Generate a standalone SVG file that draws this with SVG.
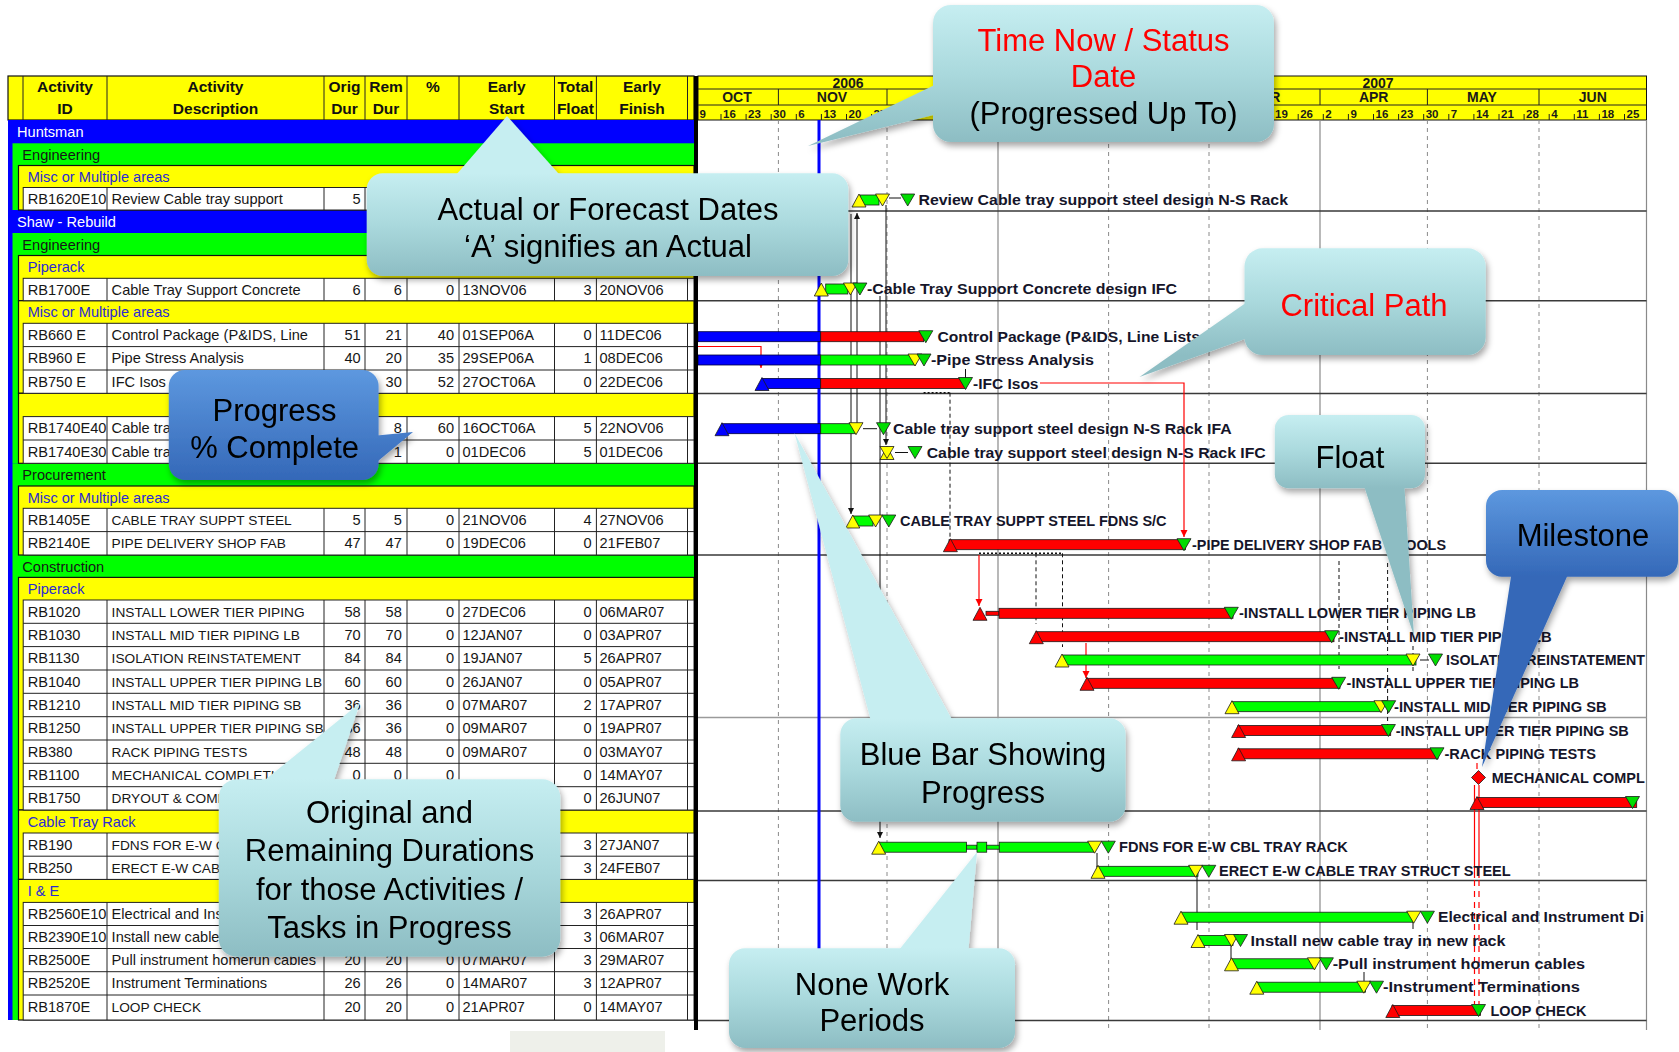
<svg xmlns="http://www.w3.org/2000/svg" width="1679" height="1052" viewBox="0 0 1679 1052">
<defs>
<style>
.tt{font-family:"Liberation Sans",Arial,sans-serif;font-size:14.6px;fill:#161616}
.tu{font-size:13.7px}
.e{text-anchor:end}
.gw{fill:#ffffff}
.gb{fill:#2b2bd4}
.hd{font-family:"Liberation Sans",Arial,sans-serif;font-size:15.5px;font-weight:bold;fill:#111;text-anchor:middle}
.lb{font-family:"Liberation Sans",Arial,sans-serif;font-size:14px;font-weight:bold;fill:#15152a}
.dy{font-family:"Liberation Sans",Arial,sans-serif;font-size:11.5px;font-weight:bold;fill:#1a1a1a}
.mo{font-family:"Liberation Sans",Arial,sans-serif;font-size:14px;font-weight:bold;fill:#1a1a1a;text-anchor:middle}
.co{font-family:"Liberation Sans",Arial,sans-serif;font-size:31px;fill:#000;text-anchor:middle}
.cr{fill:#ff0000}
.bR{fill:#ff0000;stroke:#1a1a1a;stroke-width:0.8}
.bG{fill:#00ff00;stroke:#1a1a1a;stroke-width:0.8}
.bB{fill:#0000ff;stroke:#00003a;stroke-width:0.8}
.tY{fill:#ffff00;stroke:#1a1a1a;stroke-width:0.8}
.tR{fill:#ff0000;stroke:#1a1a1a;stroke-width:0.8}
.tG{fill:#00dd00;stroke:#1a1a1a;stroke-width:0.8}
.tB{fill:#0000ff;stroke:#1a1a1a;stroke-width:0.8}
.grid{stroke:#8a8a8a;stroke-width:1;stroke-dasharray:4 4;fill:none}
.gs{stroke:#8a8a8a;stroke-width:1.2;fill:none}
.sep{stroke:#3a3a3a;stroke-width:1.5}
.cell{fill:#fff;stroke:#222;stroke-width:1}
.ln{stroke:#222;stroke-width:1;fill:none}
.rel{stroke:#111;stroke-width:1;fill:none}
.rd{stroke:#111;stroke-width:1;fill:none;stroke-dasharray:4 3}
.rdot{stroke:#111;stroke-width:1.5;fill:none;stroke-dasharray:2 2}
.relr{stroke:#ff0000;stroke-width:1.2;fill:none}
.relrd{stroke:#ff0000;stroke-width:1.2;fill:none;stroke-dasharray:6 5}
</style>
<linearGradient id="teal" x1="0" y1="0" x2="0" y2="1">
<stop offset="0" stop-color="#c6eef1"/>
<stop offset="0.5" stop-color="#aad9dd"/>
<stop offset="1" stop-color="#8dbdc3"/>
</linearGradient>
<linearGradient id="blu" x1="0" y1="0" x2="0" y2="1">
<stop offset="0" stop-color="#5d98df"/>
<stop offset="1" stop-color="#3468b8"/>
</linearGradient>
<linearGradient id="gT1" href="#teal" gradientUnits="userSpaceOnUse" x1="0" y1="5" x2="0" y2="142"/>
<linearGradient id="gT2" href="#teal" gradientUnits="userSpaceOnUse" x1="0" y1="173" x2="0" y2="276"/>
<linearGradient id="gT3" href="#teal" gradientUnits="userSpaceOnUse" x1="0" y1="248" x2="0" y2="355"/>
<linearGradient id="gT4" href="#teal" gradientUnits="userSpaceOnUse" x1="0" y1="415" x2="0" y2="488"/>
<linearGradient id="gB5" href="#blu" gradientUnits="userSpaceOnUse" x1="0" y1="490" x2="0" y2="577"/>
<linearGradient id="gB6" href="#blu" gradientUnits="userSpaceOnUse" x1="0" y1="370" x2="0" y2="480"/>
<linearGradient id="gT7" href="#teal" gradientUnits="userSpaceOnUse" x1="0" y1="718" x2="0" y2="822"/>
<linearGradient id="gT8" href="#teal" gradientUnits="userSpaceOnUse" x1="0" y1="948" x2="0" y2="1048"/>
<linearGradient id="gT9" href="#teal" gradientUnits="userSpaceOnUse" x1="0" y1="779" x2="0" y2="957"/>
<filter id="sh" x="-15%" y="-15%" width="140%" height="140%">
<feDropShadow dx="2" dy="4" stdDeviation="3" flood-color="#000" flood-opacity="0.35"/>
</filter>
<clipPath id="chartClip"><rect x="698" y="76" width="948.5" height="960"/></clipPath>
<marker id="ab" viewBox="0 0 6 6" refX="6" refY="3" markerWidth="6" markerHeight="6" orient="auto"><path d="M0,0L6,3L0,6Z" fill="#111"/></marker>
<marker id="ar" viewBox="0 0 6 6" refX="6" refY="3" markerWidth="6" markerHeight="6" orient="auto"><path d="M0,0L6,3L0,6Z" fill="#ff0000"/></marker>
<path id="up" d="M-7,7L7,7L0,-6Z"/>
<path id="dn" d="M-7,-6L7,-6L0,6Z"/>
</defs>

<rect width="1679" height="1052" fill="#fff"/>
<rect x="510" y="1031" width="155" height="21" fill="#eef0ea"/>

<!-- TABLE -->
<g id="table-header">
<rect x="8" y="76" width="686" height="44" fill="#ffff00" stroke="#111" stroke-width="1.2"/>
<path class="ln" d="M23,76V120M107,76V120M324,76V120M365,76V120M407,76V120M459,76V120M554.5,76V120M596.4,76V120M687.5,76V120"/>
<text class="hd" x="65" y="91.5">Activity</text><text class="hd" x="65" y="113.5">ID</text>
<text class="hd" x="215.5" y="91.5">Activity</text><text class="hd" x="215.5" y="113.5">Description</text>
<text class="hd" x="344.5" y="91.5">Orig</text><text class="hd" x="344.5" y="113.5">Dur</text>
<text class="hd" x="386" y="91.5">Rem</text><text class="hd" x="386" y="113.5">Dur</text>
<text class="hd" x="433" y="91.5">%</text>
<text class="hd" x="506.7" y="91.5">Early</text><text class="hd" x="506.7" y="113.5">Start</text>
<text class="hd" x="575.4" y="91.5">Total</text><text class="hd" x="575.4" y="113.5">Float</text>
<text class="hd" x="642" y="91.5">Early</text><text class="hd" x="642" y="113.5">Finish</text>
</g>

<g id="table-groups">
<rect x="8" y="120" width="686" height="90" fill="#0000ff"/>
<rect x="8" y="210" width="686" height="810" fill="#0000ff"/>
<rect x="12.5" y="143.3" width="681.5" height="66.7" fill="#00ff00"/>
<rect x="12.5" y="233" width="681.5" height="230.3" fill="#00ff00"/>
<rect x="12.5" y="463.3" width="681.5" height="91.7" fill="#00ff00"/>
<rect x="12.5" y="555" width="681.5" height="465" fill="#00ff00"/>
<g fill="#ffff00" stroke="#111" stroke-width="1.2">
<rect x="18.5" y="165.5" width="675.5" height="44.5"/>
<rect x="18.5" y="255.5" width="675.5" height="45.2"/>
<rect x="18.5" y="300.7" width="675.5" height="92.6"/>
<rect x="18.5" y="393.3" width="675.5" height="70"/>
<rect x="18.5" y="486" width="675.5" height="69"/>
<rect x="18.5" y="577.4" width="675.5" height="232.6"/>
<rect x="18.5" y="810" width="675.5" height="69.4"/>
<rect x="18.5" y="879.4" width="675.5" height="140.6"/>
</g>
<text class="tt gw" x="17" y="136.5">Huntsman</text>
<text class="tt" x="22.3" y="159.8">Engineering</text>
<text class="tt gb" x="27.7" y="182">Misc or Multiple areas</text>
<text class="tt gw" x="17" y="226.5">Shaw - Rebuild</text>
<text class="tt" x="22.3" y="249.5">Engineering</text>
<text class="tt gb" x="27.7" y="272">Piperack</text>
<text class="tt gb" x="27.7" y="317.2">Misc or Multiple areas</text>
<text class="tt" x="22.3" y="479.8">Procurement</text>
<text class="tt gb" x="27.7" y="502.5">Misc or Multiple areas</text>
<text class="tt" x="22.3" y="571.5">Construction</text>
<text class="tt gb" x="27.7" y="593.9">Piperack</text>
<text class="tt gb" x="27.7" y="826.5">Cable Tray Rack</text>
<text class="tt gb" x="27.7" y="895.9">I &amp; E</text>
</g>

<g id="table-cells">
<rect class="cell" x="23.2" y="187.5" width="670.8" height="22.5"/>
<rect class="cell" x="23.2" y="278.3" width="670.8" height="22.4"/>
<rect class="cell" x="23.2" y="323.3" width="670.8" height="70"/>
<rect class="cell" x="23.2" y="416.6" width="670.8" height="46.7"/>
<rect class="cell" x="23.2" y="508.3" width="670.8" height="46.7"/>
<rect class="cell" x="23.2" y="600" width="670.8" height="210"/>
<rect class="cell" x="23.2" y="833" width="670.8" height="46.4"/>
<rect class="cell" x="23.2" y="902.4" width="670.8" height="117.6"/>
<path class="ln" d="M107,187.5V210M324,187.5V210M365,187.5V210M407,187.5V210M459,187.5V210M554.5,187.5V210M596.4,187.5V210M687.5,187.5V210
M107,278.3V300.7M324,278.3V300.7M365,278.3V300.7M407,278.3V300.7M459,278.3V300.7M554.5,278.3V300.7M596.4,278.3V300.7M687.5,278.3V300.7
M107,323.3V393.3M324,323.3V393.3M365,323.3V393.3M407,323.3V393.3M459,323.3V393.3M554.5,323.3V393.3M596.4,323.3V393.3M687.5,323.3V393.3
M23.2,346.6H694M23.2,370H694
M107,416.6V463.3M324,416.6V463.3M365,416.6V463.3M407,416.6V463.3M459,416.6V463.3M554.5,416.6V463.3M596.4,416.6V463.3M687.5,416.6V463.3
M23.2,440H694
M107,508.3V555M324,508.3V555M365,508.3V555M407,508.3V555M459,508.3V555M554.5,508.3V555M596.4,508.3V555M687.5,508.3V555
M23.2,531.6H694
M107,600V810M324,600V810M365,600V810M407,600V810M459,600V810M554.5,600V810M596.4,600V810M687.5,600V810
M23.2,623.3H694M23.2,646.6H694M23.2,670H694M23.2,693.3H694M23.2,716.7H694M23.2,740H694M23.2,763.3H694M23.2,786.7H694
M107,833V879.4M324,833V879.4M365,833V879.4M407,833V879.4M459,833V879.4M554.5,833V879.4M596.4,833V879.4M687.5,833V879.4
M23.2,856.2H694
M107,902.4V1020M324,902.4V1020M365,902.4V1020M407,902.4V1020M459,902.4V1020M554.5,902.4V1020M596.4,902.4V1020M687.5,902.4V1020
M23.2,925.5H694M23.2,948.5H694M23.2,971.7H694M23.2,995H694"/>
</g>

<g id="row-RB1620E10"><text class="tt" x="27.7" y="204">RB1620E10</text><text class="tt" x="111.6" y="204">Review Cable tray support</text><text class="tt e" x="360.7" y="204">5</text></g>
<g id="row-RB1700E"><text class="tt" x="27.7" y="294.8">RB1700E</text><text class="tt" x="111.6" y="294.8">Cable Tray Support Concrete</text><text class="tt e" x="360.7" y="294.8">6</text><text class="tt e" x="401.8" y="294.8">6</text><text class="tt e" x="454" y="294.8">0</text><text class="tt" x="462.5" y="294.8">13NOV06</text><text class="tt e" x="591.5" y="294.8">3</text><text class="tt" x="599.5" y="294.8">20NOV06</text></g>
<g id="row-RB660E"><text class="tt" x="27.7" y="339.8">RB660 E</text><text class="tt" x="111.6" y="339.8">Control Package (P&amp;IDS, Line</text><text class="tt e" x="360.7" y="339.8">51</text><text class="tt e" x="401.8" y="339.8">21</text><text class="tt e" x="454" y="339.8">40</text><text class="tt" x="462.5" y="339.8">01SEP06A</text><text class="tt e" x="591.5" y="339.8">0</text><text class="tt" x="599.5" y="339.8">11DEC06</text></g>
<g id="row-RB960E"><text class="tt" x="27.7" y="363.1">RB960 E</text><text class="tt" x="111.6" y="363.1">Pipe Stress Analysis</text><text class="tt e" x="360.7" y="363.1">40</text><text class="tt e" x="401.8" y="363.1">20</text><text class="tt e" x="454" y="363.1">35</text><text class="tt" x="462.5" y="363.1">29SEP06A</text><text class="tt e" x="591.5" y="363.1">1</text><text class="tt" x="599.5" y="363.1">08DEC06</text></g>
<g id="row-RB750E"><text class="tt" x="27.7" y="386.5">RB750 E</text><text class="tt" x="111.6" y="386.5">IFC Isos</text><text class="tt e" x="401.8" y="386.5">30</text><text class="tt e" x="454" y="386.5">52</text><text class="tt" x="462.5" y="386.5">27OCT06A</text><text class="tt e" x="591.5" y="386.5">0</text><text class="tt" x="599.5" y="386.5">22DEC06</text></g>
<g id="row-RB1740E40"><text class="tt" x="27.7" y="433.1">RB1740E40</text><text class="tt" x="111.6" y="433.1">Cable tra</text><text class="tt e" x="401.8" y="433.1">8</text><text class="tt e" x="454" y="433.1">60</text><text class="tt" x="462.5" y="433.1">16OCT06A</text><text class="tt e" x="591.5" y="433.1">5</text><text class="tt" x="599.5" y="433.1">22NOV06</text></g>
<g id="row-RB1740E30"><text class="tt" x="27.7" y="456.5">RB1740E30</text><text class="tt" x="111.6" y="456.5">Cable tra</text><text class="tt e" x="401.8" y="456.5">1</text><text class="tt e" x="454" y="456.5">0</text><text class="tt" x="462.5" y="456.5">01DEC06</text><text class="tt e" x="591.5" y="456.5">5</text><text class="tt" x="599.5" y="456.5">01DEC06</text></g>
<g id="row-RB1405E"><text class="tt" x="27.7" y="524.8">RB1405E</text><text class="tt tu" x="111.6" y="524.8">CABLE TRAY SUPPT STEEL</text><text class="tt e" x="360.7" y="524.8">5</text><text class="tt e" x="401.8" y="524.8">5</text><text class="tt e" x="454" y="524.8">0</text><text class="tt" x="462.5" y="524.8">21NOV06</text><text class="tt e" x="591.5" y="524.8">4</text><text class="tt" x="599.5" y="524.8">27NOV06</text></g>
<g id="row-RB2140E"><text class="tt" x="27.7" y="548.1">RB2140E</text><text class="tt tu" x="111.6" y="548.1">PIPE DELIVERY SHOP FAB</text><text class="tt e" x="360.7" y="548.1">47</text><text class="tt e" x="401.8" y="548.1">47</text><text class="tt e" x="454" y="548.1">0</text><text class="tt" x="462.5" y="548.1">19DEC06</text><text class="tt e" x="591.5" y="548.1">0</text><text class="tt" x="599.5" y="548.1">21FEB07</text></g>
<g id="row-RB1020"><text class="tt" x="27.7" y="616.5">RB1020</text><text class="tt tu" x="111.6" y="616.5">INSTALL LOWER TIER PIPING</text><text class="tt e" x="360.7" y="616.5">58</text><text class="tt e" x="401.8" y="616.5">58</text><text class="tt e" x="454" y="616.5">0</text><text class="tt" x="462.5" y="616.5">27DEC06</text><text class="tt e" x="591.5" y="616.5">0</text><text class="tt" x="599.5" y="616.5">06MAR07</text></g>
<g id="row-RB1030"><text class="tt" x="27.7" y="639.8">RB1030</text><text class="tt tu" x="111.6" y="639.8">INSTALL MID TIER PIPING LB</text><text class="tt e" x="360.7" y="639.8">70</text><text class="tt e" x="401.8" y="639.8">70</text><text class="tt e" x="454" y="639.8">0</text><text class="tt" x="462.5" y="639.8">12JAN07</text><text class="tt e" x="591.5" y="639.8">0</text><text class="tt" x="599.5" y="639.8">03APR07</text></g>
<g id="row-RB1130"><text class="tt" x="27.7" y="663.1">RB1130</text><text class="tt tu" x="111.6" y="663.1">ISOLATION REINSTATEMENT</text><text class="tt e" x="360.7" y="663.1">84</text><text class="tt e" x="401.8" y="663.1">84</text><text class="tt e" x="454" y="663.1">0</text><text class="tt" x="462.5" y="663.1">19JAN07</text><text class="tt e" x="591.5" y="663.1">5</text><text class="tt" x="599.5" y="663.1">26APR07</text></g>
<g id="row-RB1040"><text class="tt" x="27.7" y="686.5">RB1040</text><text class="tt tu" x="111.6" y="686.5">INSTALL UPPER TIER PIPING LB</text><text class="tt e" x="360.7" y="686.5">60</text><text class="tt e" x="401.8" y="686.5">60</text><text class="tt e" x="454" y="686.5">0</text><text class="tt" x="462.5" y="686.5">26JAN07</text><text class="tt e" x="591.5" y="686.5">0</text><text class="tt" x="599.5" y="686.5">05APR07</text></g>
<g id="row-RB1210"><text class="tt" x="27.7" y="709.8">RB1210</text><text class="tt tu" x="111.6" y="709.8">INSTALL MID TIER PIPING SB</text><text class="tt e" x="360.7" y="709.8">36</text><text class="tt e" x="401.8" y="709.8">36</text><text class="tt e" x="454" y="709.8">0</text><text class="tt" x="462.5" y="709.8">07MAR07</text><text class="tt e" x="591.5" y="709.8">2</text><text class="tt" x="599.5" y="709.8">17APR07</text></g>
<g id="row-RB1250"><text class="tt" x="27.7" y="733.2">RB1250</text><text class="tt tu" x="111.6" y="733.2">INSTALL UPPER TIER PIPING SB</text><text class="tt e" x="360.7" y="733.2">36</text><text class="tt e" x="401.8" y="733.2">36</text><text class="tt e" x="454" y="733.2">0</text><text class="tt" x="462.5" y="733.2">09MAR07</text><text class="tt e" x="591.5" y="733.2">0</text><text class="tt" x="599.5" y="733.2">19APR07</text></g>
<g id="row-RB380"><text class="tt" x="27.7" y="756.5">RB380</text><text class="tt tu" x="111.6" y="756.5">RACK PIPING TESTS</text><text class="tt e" x="360.7" y="756.5">48</text><text class="tt e" x="401.8" y="756.5">48</text><text class="tt e" x="454" y="756.5">0</text><text class="tt" x="462.5" y="756.5">09MAR07</text><text class="tt e" x="591.5" y="756.5">0</text><text class="tt" x="599.5" y="756.5">03MAY07</text></g>
<g id="row-RB1100"><text class="tt" x="27.7" y="779.8">RB1100</text><text class="tt tu" x="111.6" y="779.8">MECHANICAL COMPLETION</text><text class="tt e" x="360.7" y="779.8">0</text><text class="tt e" x="401.8" y="779.8">0</text><text class="tt e" x="454" y="779.8">0</text><text class="tt e" x="591.5" y="779.8">0</text><text class="tt" x="599.5" y="779.8">14MAY07</text></g>
<g id="row-RB1750"><text class="tt" x="27.7" y="803.2">RB1750</text><text class="tt tu" x="111.6" y="803.2">DRYOUT &amp; COMM</text><text class="tt e" x="591.5" y="803.2">0</text><text class="tt" x="599.5" y="803.2">26JUN07</text></g>
<g id="row-RB190"><text class="tt" x="27.7" y="849.5">RB190</text><text class="tt tu" x="111.6" y="849.5">FDNS FOR E-W CBL</text><text class="tt e" x="591.5" y="849.5">3</text><text class="tt" x="599.5" y="849.5">27JAN07</text></g>
<g id="row-RB250"><text class="tt" x="27.7" y="872.7">RB250</text><text class="tt tu" x="111.6" y="872.7">ERECT E-W CABLE</text><text class="tt e" x="591.5" y="872.7">3</text><text class="tt" x="599.5" y="872.7">24FEB07</text></g>
<g id="row-RB2560E10"><text class="tt" x="27.7" y="918.9">RB2560E10</text><text class="tt" x="111.6" y="918.9">Electrical and Inst</text><text class="tt e" x="591.5" y="918.9">3</text><text class="tt" x="599.5" y="918.9">26APR07</text></g>
<g id="row-RB2390E10"><text class="tt" x="27.7" y="942">RB2390E10</text><text class="tt" x="111.6" y="942">Install new cable tray</text><text class="tt e" x="591.5" y="942">3</text><text class="tt" x="599.5" y="942">06MAR07</text></g>
<g id="row-RB2500E"><text class="tt" x="27.7" y="965">RB2500E</text><text class="tt" x="111.6" y="965">Pull instrument homerun cables</text><text class="tt e" x="360.7" y="965">20</text><text class="tt e" x="401.8" y="965">20</text><text class="tt e" x="454" y="965">0</text><text class="tt" x="462.5" y="965">07MAR07</text><text class="tt e" x="591.5" y="965">3</text><text class="tt" x="599.5" y="965">29MAR07</text></g>
<g id="row-RB2520E"><text class="tt" x="27.7" y="988.2">RB2520E</text><text class="tt" x="111.6" y="988.2">Instrument Terminations</text><text class="tt e" x="360.7" y="988.2">26</text><text class="tt e" x="401.8" y="988.2">26</text><text class="tt e" x="454" y="988.2">0</text><text class="tt" x="462.5" y="988.2">14MAR07</text><text class="tt e" x="591.5" y="988.2">3</text><text class="tt" x="599.5" y="988.2">12APR07</text></g>
<g id="row-RB1870E"><text class="tt" x="27.7" y="1011.5">RB1870E</text><text class="tt tu" x="111.6" y="1011.5">LOOP CHECK</text><text class="tt e" x="360.7" y="1011.5">20</text><text class="tt e" x="401.8" y="1011.5">20</text><text class="tt e" x="454" y="1011.5">0</text><text class="tt" x="462.5" y="1011.5">21APR07</text><text class="tt e" x="591.5" y="1011.5">0</text><text class="tt" x="599.5" y="1011.5" fill="#3a1060">14MAY07</text></g>

<!-- TIMELINE HEADER -->
<g id="timeline-header">
<rect x="698" y="76" width="948.5" height="44" fill="#ffff00" stroke="#111" stroke-width="1"/>
<path class="ln" d="M698,89H1646.5M698,105H1646.5M998,76V105M778.4,89V105M887,89V105M1108.6,89V105M1209,89V105M1320,89V105M1427.4,89V105M1539,89V105"/>
<text class="mo" x="848" y="87.5" font-size="13">2006</text>
<text class="mo" x="1378" y="87.5" font-size="13">2007</text>
<text class="mo" x="737" y="102">OCT</text>
<text class="mo" x="832" y="102">NOV</text>
<text class="mo" x="1264.5" y="102">MAR</text>
<text class="mo" x="1373.7" y="102">APR</text>
<text class="mo" x="1482" y="102">MAY</text>
<text class="mo" x="1592.8" y="102">JUN</text>
<path class="ln" d="M721,114V120M746.1,114V120M771.2,114V120M796.3,114V120M821.4,114V120M846.5,114V120M871.6,114V120M1273.1,114V120M1298.2,114V120M1323.3,114V120M1348.4,114V120M1373.5,114V120M1398.6,114V120M1423.7,114V120M1448.8,114V120M1473.9,114V120M1499,114V120M1524.1,114V120M1549.2,114V120M1574.3,114V120M1599.4,114V120M1624.5,114V120"/>
<text class="dy" x="699.5" y="117.5">9</text>
<text class="dy" x="723" y="117.5">16</text>
<text class="dy" x="748" y="117.5">23</text>
<text class="dy" x="773" y="117.5">30</text>
<text class="dy" x="798.3" y="117.5">6</text>
<text class="dy" x="823.4" y="117.5">13</text>
<text class="dy" x="848.5" y="117.5">20</text>
<text class="dy" x="873.6" y="117.5">27</text>
<text class="dy" x="1275" y="117.5">19</text>
<text class="dy" x="1300.2" y="117.5">26</text>
<text class="dy" x="1325.3" y="117.5">2</text>
<text class="dy" x="1350.4" y="117.5">9</text>
<text class="dy" x="1375.5" y="117.5">16</text>
<text class="dy" x="1400.6" y="117.5">23</text>
<text class="dy" x="1425.7" y="117.5">30</text>
<text class="dy" x="1450.8" y="117.5">7</text>
<text class="dy" x="1475.9" y="117.5">14</text>
<text class="dy" x="1501" y="117.5">21</text>
<text class="dy" x="1526.1" y="117.5">28</text>
<text class="dy" x="1551.2" y="117.5">4</text>
<text class="dy" x="1576.3" y="117.5">11</text>
<text class="dy" x="1601.4" y="117.5">18</text>
<text class="dy" x="1626.5" y="117.5">25</text>
</g>

<!-- CHART GRID -->
<g id="chart-grid">
<path class="grid" d="M778.4,120V1030M887,120V1030M1108.6,120V1030M1209,120V1030M1427.4,120V1030M1539,120V1030"/>
<path class="gs" d="M998,120V1030M1320,120V1030M1646.5,120V1030"/>
<path class="sep" d="M698,211H1646.5M698,300.7H1646.5M698,393.5H1646.5M698,463.3H1646.5M698,555H1646.5M698,811H1646.5M698,880.5H1646.5M698,1020.5H1646.5"/>
<path d="M698,717.5H1646.5" stroke="#9a9a9a" stroke-width="1.5"/>
<rect x="694" y="76" width="4" height="954" fill="#000"/>
<rect id="time-now" x="817.5" y="120" width="3" height="901" fill="#0000ff"/>
</g>

<!-- CONNECTORS -->
<g id="connectors">
<path class="rel" d="M851,214V514" marker-end="url(#ab)"/>
<path class="rel" d="M857,423V213" marker-end="url(#ab)"/>
<path class="rel" d="M880,296V838" marker-end="url(#ab)"/>
<path class="rel" d="M886,205V445" marker-end="url(#ab)"/>
<path class="rel" d="M889,198H901M863,428.7H877M895,452.5H908M1420,660H1429"/>
<path class="rdot" d="M923.6,392.7H950M979,553.3H1062.5"/>
<path class="rd" d="M950,392.7V537M1036,553.3V624M1062.5,553.3V647M1339,561V669M1387.6,563V727M1413,646V671"/>
<path class="rel" d="M1197,876V930M1231,942V960M1097,853V867M1364,972V981M1413,922V929M965.5,369V378"/>
<path class="relr" d="M698,346.5H761V368" marker-end="url(#ar)"/>
<path class="relr" d="M1040,383H1184V537" marker-end="url(#ar)"/>
<path class="relr" d="M979,555V606" marker-end="url(#ar)"/>
<path class="relr" d="M1086,643V678" marker-end="url(#ar)"/>
<path class="relr" d="M1474.5,785V878M1479,785V878"/>
<path class="relrd" d="M1474.5,880V1004M1479,880V1004M1477,763V771"/>
</g>

<!-- BARS -->
<g id="bars" clip-path="url(#chartClip)">
<g id="bar-RB1620E10">
<rect class="bG" x="860" y="195" width="19" height="10"/>
<use href="#up" class="tY" x="859" y="200"/><use href="#dn" class="tY" x="882.5" y="200"/><use href="#dn" class="tG" x="907.7" y="200"/>
<text class="lb" x="918.5" y="205" textLength="369.5" lengthAdjust="spacingAndGlyphs">Review Cable tray support steel design N-S Rack</text>
</g>
<g id="bar-RB1700E">
<rect class="bG" x="825.7" y="284" width="22.1" height="10"/>
<use href="#up" class="tY" x="821.3" y="289"/><use href="#dn" class="tY" x="850.4" y="289"/><use href="#dn" class="tG" x="859.9" y="289"/>
<text class="lb" x="867" y="294" textLength="310" lengthAdjust="spacingAndGlyphs">-Cable Tray Support Concrete design IFC</text>
</g>
<g id="bar-RB660E">
<rect class="bB" x="698" y="331.7" width="122.7" height="10"/><rect class="bR" x="820.7" y="331.7" width="102.9" height="10"/>
<use href="#dn" class="tG" x="925.8" y="336.7"/>
<text class="lb" x="937.5" y="341.7" textLength="262.5" lengthAdjust="spacingAndGlyphs">Control Package (P&amp;IDS, Line Lists</text>
</g>
<g id="bar-RB960E">
<rect class="bB" x="698" y="355" width="122.7" height="10"/><rect class="bG" x="820.7" y="355" width="94.7" height="10"/>
<use href="#dn" class="tY" x="915" y="360"/><use href="#dn" class="tG" x="924" y="360"/>
<text class="lb" x="931" y="365" textLength="163" lengthAdjust="spacingAndGlyphs">-Pipe Stress Analysis</text>
</g>
<g id="bar-RB750E">
<rect class="bB" x="762" y="378.5" width="58.7" height="10"/><rect class="bR" x="820.7" y="378.5" width="145.3" height="10"/>
<use href="#up" class="tB" x="762" y="383.5"/><use href="#dn" class="tG" x="965.5" y="383.5"/>
<text class="lb" x="973" y="388.5" textLength="65.5" lengthAdjust="spacingAndGlyphs">-IFC Isos</text>
</g>
<g id="bar-RB1740E40">
<rect class="bB" x="722" y="423.7" width="98.7" height="10"/><rect class="bG" x="820.7" y="423.7" width="34.7" height="10"/>
<use href="#up" class="tB" x="722" y="428.7"/><use href="#dn" class="tY" x="856" y="428.7"/><use href="#dn" class="tG" x="883.5" y="428.7"/>
<text class="lb" x="893" y="433.7" textLength="338.7" lengthAdjust="spacingAndGlyphs">Cable tray support steel design N-S Rack IFA</text>
</g>
<g id="bar-RB1740E30">
<use href="#up" class="tY" x="887" y="452.5"/><use href="#dn" class="tY" x="887" y="452.5"/><use href="#dn" class="tG" x="915" y="452.5"/>
<text class="lb" x="926.7" y="457.5" textLength="339.1" lengthAdjust="spacingAndGlyphs">Cable tray support steel design N-S Rack IFC</text>
</g>
<g id="bar-RB1405E">
<rect class="bG" x="853" y="516" width="20" height="10"/>
<use href="#up" class="tY" x="852.8" y="521"/><use href="#dn" class="tY" x="875.6" y="521"/><use href="#dn" class="tG" x="888.8" y="521"/>
<text class="lb" x="900" y="526" textLength="266.6" lengthAdjust="spacingAndGlyphs">CABLE TRAY SUPPT STEEL FDNS S/C</text>
</g>
<g id="bar-RB2140E">
<rect class="bR" x="949" y="539.7" width="236.6" height="10"/>
<use href="#up" class="tR" x="950.4" y="544.7"/><use href="#dn" class="tG" x="1184" y="544.7"/>
<text class="lb" x="1192" y="549.7" textLength="254" lengthAdjust="spacingAndGlyphs">-PIPE DELIVERY SHOP FAB SPOOLS</text>
</g>
<g id="bar-RB1020">
<rect class="bR" x="986" y="611.3" width="13" height="4"/><rect class="bR" x="999" y="608.3" width="234" height="10"/>
<use href="#up" class="tR" x="980" y="613.3"/><use href="#dn" class="tG" x="1231.3" y="613.3"/>
<text class="lb" x="1239" y="618.3" textLength="237" lengthAdjust="spacingAndGlyphs">-INSTALL LOWER TIER PIPING LB</text>
</g>
<g id="bar-RB1030">
<rect class="bR" x="1036" y="631.7" width="298" height="10"/>
<use href="#up" class="tR" x="1036.3" y="636.7"/><use href="#dn" class="tG" x="1331.7" y="636.7"/>
<text class="lb" x="1339" y="641.7" textLength="212.7" lengthAdjust="spacingAndGlyphs">-INSTALL MID TIER PIPING LB</text>
</g>
<g id="bar-RB1130">
<rect class="bG" x="1062.5" y="655" width="353.5" height="10"/>
<use href="#up" class="tY" x="1062" y="660"/><use href="#dn" class="tY" x="1413" y="660"/><use href="#dn" class="tG" x="1435.5" y="660"/>
<text class="lb" x="1446" y="665" textLength="199" lengthAdjust="spacingAndGlyphs">ISOLATION REINSTATEMENT</text>
</g>
<g id="bar-RB1040">
<rect class="bR" x="1086.5" y="678.3" width="253.5" height="10"/>
<use href="#up" class="tR" x="1087" y="683.3"/><use href="#dn" class="tG" x="1338.7" y="683.3"/>
<text class="lb" x="1346.6" y="688.3" textLength="232.4" lengthAdjust="spacingAndGlyphs">-INSTALL UPPER TIER PIPING LB</text>
</g>
<g id="bar-RB1210">
<rect class="bG" x="1231.7" y="701.7" width="149.3" height="10"/>
<use href="#up" class="tY" x="1232" y="706.7"/><use href="#dn" class="tY" x="1381" y="706.7"/><use href="#dn" class="tG" x="1388.7" y="706.7"/>
<text class="lb" x="1394" y="711.7" textLength="212.7" lengthAdjust="spacingAndGlyphs">-INSTALL MID TIER PIPING SB</text>
</g>
<g id="bar-RB1250">
<rect class="bR" x="1238" y="725.5" width="152.7" height="10"/>
<use href="#up" class="tR" x="1238.6" y="730.5"/><use href="#dn" class="tG" x="1388.4" y="730.5"/>
<text class="lb" x="1395.8" y="735.5" textLength="233" lengthAdjust="spacingAndGlyphs">-INSTALL UPPER TIER PIPING SB</text>
</g>
<g id="bar-RB380">
<rect class="bR" x="1238" y="748.8" width="200" height="10"/>
<use href="#up" class="tR" x="1238.6" y="753.8"/><use href="#dn" class="tG" x="1437" y="753.8"/>
<text class="lb" x="1444.4" y="758.8" textLength="151.6" lengthAdjust="spacingAndGlyphs">-RACK PIPING TESTS</text>
</g>
<g id="bar-RB1100">
<path class="tR" d="M1478.5,770.5L1485.5,777.5L1478.5,784.5L1471.5,777.5Z"/>
<text class="lb" x="1491.8" y="782.5" textLength="153" lengthAdjust="spacingAndGlyphs">MECHANICAL COMPL</text>
</g>
<g id="bar-RB1750">
<rect class="bR" x="1477" y="797.5" width="159.7" height="10"/>
<use href="#up" class="tR" x="1477" y="802.5"/><use href="#dn" class="tG" x="1632.5" y="802.5"/>
</g>
<g id="bar-RB190">
<rect class="bG" x="879.4" y="842.2" width="87.1" height="10"/>
<rect class="bG" x="966.5" y="845.2" width="10.5" height="4"/>
<rect class="bG" x="977" y="842.2" width="9.7" height="10"/>
<rect class="bG" x="986.7" y="845.2" width="12.6" height="4"/>
<rect class="bG" x="999.3" y="842.2" width="94.7" height="10"/>
<use href="#up" class="tY" x="878.7" y="847.2"/><use href="#dn" class="tY" x="1094.6" y="847.2"/><use href="#dn" class="tG" x="1108.3" y="847.2"/>
<text class="lb" x="1119" y="852.2" textLength="228.8" lengthAdjust="spacingAndGlyphs">FDNS FOR E-W CBL TRAY RACK</text>
</g>
<g id="bar-RB250">
<rect class="bG" x="1097" y="866.3" width="101" height="10"/>
<use href="#up" class="tY" x="1098" y="871.3"/><use href="#dn" class="tY" x="1195.6" y="871.3"/><use href="#dn" class="tG" x="1208.8" y="871.3"/>
<text class="lb" x="1219" y="876.3" textLength="291.7" lengthAdjust="spacingAndGlyphs">ERECT E-W CABLE TRAY STRUCT STEEL</text>
</g>
<g id="bar-RB2560E10">
<rect class="bG" x="1181" y="912.2" width="232" height="10"/>
<use href="#up" class="tY" x="1181" y="917.2"/><use href="#dn" class="tY" x="1413.7" y="917.2"/><use href="#dn" class="tG" x="1427.4" y="917.2"/>
<text class="lb" x="1438" y="922.2" textLength="206" lengthAdjust="spacingAndGlyphs">Electrical and Instrument Di</text>
</g>
<g id="bar-RB2390E10">
<rect class="bG" x="1198" y="935.5" width="35" height="10"/>
<use href="#up" class="tY" x="1198" y="940.5"/><use href="#dn" class="tY" x="1231.5" y="940.5"/><use href="#dn" class="tG" x="1240.5" y="940.5"/>
<text class="lb" x="1250.6" y="945.5" textLength="255" lengthAdjust="spacingAndGlyphs">Install new cable tray in new rack</text>
</g>
<g id="bar-RB2500E">
<rect class="bG" x="1231.7" y="958.8" width="83.3" height="10"/>
<use href="#up" class="tY" x="1231.5" y="963.8"/><use href="#dn" class="tY" x="1314.4" y="963.8"/><use href="#dn" class="tG" x="1326.4" y="963.8"/>
<text class="lb" x="1332.7" y="968.8" textLength="252.3" lengthAdjust="spacingAndGlyphs">-Pull instrument homerun cables</text>
</g>
<g id="bar-RB2520E">
<rect class="bG" x="1257" y="982.2" width="108.5" height="10"/>
<use href="#up" class="tY" x="1256.8" y="987.2"/><use href="#dn" class="tY" x="1363.8" y="987.2"/><use href="#dn" class="tG" x="1376.5" y="987.2"/>
<text class="lb" x="1383" y="992.2" textLength="197" lengthAdjust="spacingAndGlyphs">-Instrument Terminations</text>
</g>
<g id="bar-RB1870E">
<rect class="bR" x="1392" y="1005.5" width="88.4" height="10"/>
<use href="#up" class="tR" x="1392.8" y="1010.5"/><use href="#dn" class="tG" x="1478.5" y="1010.5"/>
<text class="lb" x="1490.5" y="1015.5" textLength="96" lengthAdjust="spacingAndGlyphs">LOOP CHECK</text>
</g>
</g>

<!-- CALLOUTS -->
<g id="callout-time-now" filter="url(#sh)">
<polygon points="945,80 808,146 962,108" fill="url(#gT1)"/>
<rect x="933" y="5" width="341" height="137" rx="18" fill="url(#gT1)"/>
<text class="co cr" x="1103.5" y="50.7">Time Now / Status</text>
<text class="co cr" x="1103.5" y="87.4">Date</text>
<text class="co" x="1103.5" y="124">(Progressed Up To)</text>
</g>
<g id="callout-actual-dates" filter="url(#sh)">
<polygon points="450,182 507,116 566,182" fill="url(#gT2)"/>
<rect x="366.7" y="173.3" width="481.6" height="102.7" rx="16" fill="url(#gT2)"/>
<text class="co" x="608" y="220">Actual or Forecast Dates</text>
<text class="co" x="608" y="257.4">‘A’ signifies an Actual</text>
</g>
<g id="callout-critical-path" filter="url(#sh)">
<polygon points="1250,300 1139.5,377 1256,335" fill="url(#gT3)"/>
<rect x="1244.5" y="248.3" width="241.2" height="106.7" rx="18" fill="url(#gT3)"/>
<text class="co cr" x="1364" y="315.5">Critical Path</text>
</g>
<g id="callout-float" filter="url(#sh)">
<polygon points="1362,480 1414,636 1404,480" fill="url(#gT4)"/>
<rect x="1274.8" y="415" width="150.2" height="73.3" rx="14" fill="url(#gT4)"/>
<text class="co" x="1350" y="467.8">Float</text>
</g>
<g id="callout-milestone" filter="url(#sh)">
<polygon points="1512,570 1482,767 1570,570" fill="url(#gB5)"/>
<rect x="1486" y="490" width="192" height="86.7" rx="16" fill="url(#gB5)"/>
<text class="co" x="1583" y="546">Milestone</text>
</g>
<g id="callout-progress" filter="url(#sh)">
<polygon points="372,436 413,432 372,466" fill="url(#gB6)"/>
<rect x="168.75" y="370" width="209.85" height="110" rx="16" fill="url(#gB6)"/>
<text class="co" x="274.6" y="421">Progress</text>
<text class="co" x="274.6" y="457.8">% Complete</text>
</g>
<g id="callout-blue-bar" filter="url(#sh)">
<polygon points="872,725 794.5,433 955,725" fill="url(#gT7)"/>
<rect x="840.3" y="718.3" width="285.3" height="103.4" rx="16" fill="url(#gT7)"/>
<text class="co" x="983" y="764.5">Blue Bar Showing</text>
<text class="co" x="983" y="802.8">Progress</text>
</g>
<g id="callout-non-work" filter="url(#sh)">
<polygon points="895,955 977,852 968,955" fill="url(#gT8)"/>
<rect x="729" y="948.3" width="286" height="99.7" rx="16" fill="url(#gT8)"/>
<text class="co" x="872" y="994.5">None Work</text>
<text class="co" x="872" y="1031">Periods</text>
</g>
<g id="callout-durations" filter="url(#sh)">
<polygon points="250,792 360,703 330,792" fill="url(#gT9)"/>
<rect x="218.75" y="779.3" width="341.55" height="177.4" rx="18" fill="url(#gT9)"/>
<text class="co" x="389.5" y="823">Original and</text>
<text class="co" x="389.5" y="861.3">Remaining Durations</text>
<text class="co" x="389.5" y="899.6">for those Activities /</text>
<text class="co" x="389.5" y="937.9">Tasks in Progress</text>
</g>
</svg>
